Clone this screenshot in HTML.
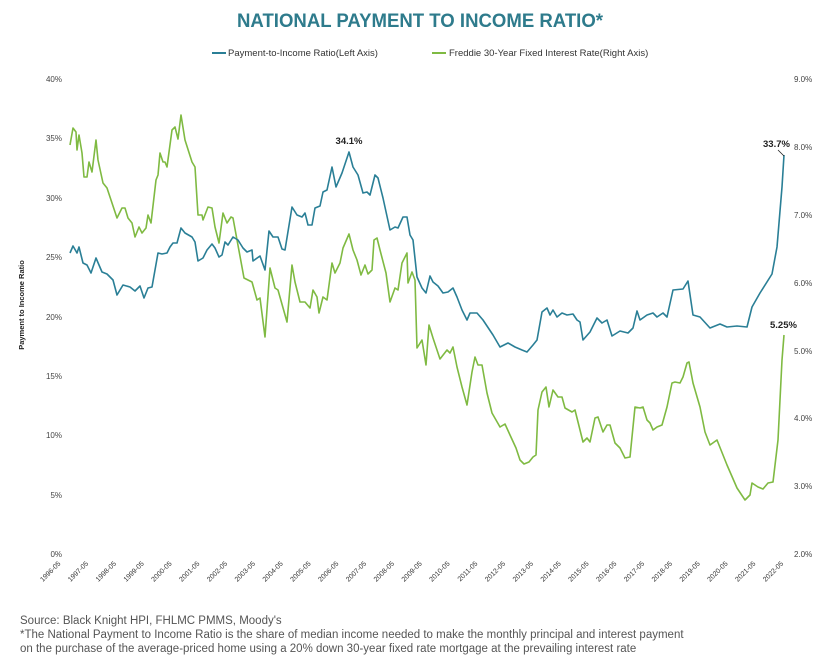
<!DOCTYPE html>
<html><head><meta charset="utf-8"><style>
body{margin:0;background:#fff;width:839px;height:662px;overflow:hidden;font-family:"Liberation Sans",sans-serif}
</style></head><body>
<svg width="839" height="662" viewBox="0 0 839 662" xmlns="http://www.w3.org/2000/svg" font-family="Liberation Sans, sans-serif">
<text x="420" y="27" text-anchor="middle" font-size="19" font-weight="bold" fill="#2e7b8c" textLength="366" lengthAdjust="spacingAndGlyphs">NATIONAL PAYMENT TO INCOME RATIO*</text>
<line x1="212" y1="53" x2="226" y2="53" stroke="#2a7f96" stroke-width="2"/>
<text x="228" y="56" font-size="9.5" fill="#333">Payment-to-Income Ratio(Left Axis)</text>
<line x1="432" y1="53" x2="446" y2="53" stroke="#7fba42" stroke-width="2"/>
<text x="449" y="56" font-size="9.5" fill="#333">Freddie 30-Year Fixed Interest Rate(Right Axis)</text>
<g font-size="8" fill="#444" text-anchor="end">
<text x="62" y="82">40%</text><text x="62" y="141">35%</text><text x="62" y="201">30%</text><text x="62" y="260">25%</text><text x="62" y="320">20%</text><text x="62" y="379">15%</text><text x="62" y="438">10%</text><text x="62" y="498">5%</text><text x="62" y="557">0%</text>
</g>
<g font-size="8" fill="#444">
<text x="794" y="82">9.0%</text><text x="794" y="150">8.0%</text><text x="794" y="218">7.0%</text><text x="794" y="286">6.0%</text><text x="794" y="354">5.0%</text><text x="794" y="421">4.0%</text><text x="794" y="489">3.0%</text><text x="794" y="557">2.0%</text>
</g>
<text transform="translate(24,305) rotate(-90)" text-anchor="middle" font-size="7.5" font-weight="bold" fill="#222">Payment to Income Ratio</text>
<g font-size="7" fill="#333" text-anchor="end">
<text transform="translate(61,564) rotate(-45)">1996-05</text>
<text transform="translate(88.8,564) rotate(-45)">1997-05</text>
<text transform="translate(116.6,564) rotate(-45)">1998-05</text>
<text transform="translate(144.4,564) rotate(-45)">1999-05</text>
<text transform="translate(172.2,564) rotate(-45)">2000-05</text>
<text transform="translate(200,564) rotate(-45)">2001-05</text>
<text transform="translate(227.8,564) rotate(-45)">2002-05</text>
<text transform="translate(255.6,564) rotate(-45)">2003-05</text>
<text transform="translate(283.4,564) rotate(-45)">2004-05</text>
<text transform="translate(311.2,564) rotate(-45)">2005-05</text>
<text transform="translate(339,564) rotate(-45)">2006-05</text>
<text transform="translate(366.8,564) rotate(-45)">2007-05</text>
<text transform="translate(394.6,564) rotate(-45)">2008-05</text>
<text transform="translate(422.4,564) rotate(-45)">2009-05</text>
<text transform="translate(450.2,564) rotate(-45)">2010-05</text>
<text transform="translate(478,564) rotate(-45)">2011-05</text>
<text transform="translate(505.8,564) rotate(-45)">2012-05</text>
<text transform="translate(533.6,564) rotate(-45)">2013-05</text>
<text transform="translate(561.4,564) rotate(-45)">2014-05</text>
<text transform="translate(589.2,564) rotate(-45)">2015-05</text>
<text transform="translate(617,564) rotate(-45)">2016-05</text>
<text transform="translate(644.8,564) rotate(-45)">2017-05</text>
<text transform="translate(672.6,564) rotate(-45)">2018-05</text>
<text transform="translate(700.4,564) rotate(-45)">2019-05</text>
<text transform="translate(728.2,564) rotate(-45)">2020-05</text>
<text transform="translate(756,564) rotate(-45)">2021-05</text>
<text transform="translate(783.8,564) rotate(-45)">2022-05</text>
</g>
<polyline fill="none" stroke="#7fba42" stroke-width="1.6" stroke-linejoin="round" points="70,145 73,128 76,132 77,150 79,135 82,153 84,177 87,177 89,162 92,172 96,140 98,160 103,183 107,188 117,218 122,208 125,208 128,218 132,223 135,237 139,227 142,233 146,228 148,215 151,223 156,180 158,175 160,153 163,162 165,162 167,167 172,130 175,127 178,139 181,115 185,140 192,162 195,167 198,215 202,215 203,220 208,207 212,208 215,227 219,243 223,213 227,223 231,217 233,218 244,278 252,282 257,300 260,298 265,337 270,268 275,288 278,290 287,322 292,265 295,282 300,302 305,302 310,308 313,290 317,297 319,313 323,297 327,300 332,263 335,273 340,263 343,248 349,234 353,250 357,260 361,275 365,265 368,274 372,270 374,240 377,238 380,250 386,273 390,302 395,288 398,290 402,263 407,253 408,283 412,272 415,280 417,348 422,340 426,365 429,325 433,338 440,359 447,350 450,353 453,347 457,367 462,387 467,405 472,372 475,357 478,365 482,365 487,393 492,413 500,427 505,424 510,435 516,448 520,460 524,464 529,462 533,457 536,455 538,410 542,392 546,387 549,407 553,390 558,397 562,397 565,408 572,412 575,410 583,442 587,438 590,442 595,418 598,417 603,432 607,425 610,425 615,443 620,448 625,458 630,457 635,407 640,408 643,407 647,420 650,423 653,430 657,427 662,425 667,407 672,383 675,382 680,383 683,377 687,363 689,362 693,383 700,407 705,432 710,445 717,440 727,465 737,488 745,500 750,495 752,483 758,487 763,489 768,483 773,482 778,440 782,360 784,335"/>
<polyline fill="none" stroke="#2a7f96" stroke-width="1.6" stroke-linejoin="round" points="70,253 73,246 77,253 79,247 83,263 87,265 91,273 96,258 102,272 107,274 113,280 117,295 123,285 130,287 135,291 140,286 144,298 148,288 152,287 158,253 162,254 167,253 170,247 173,243 177,243 181,228 185,233 192,237 195,242 198,261 203,258 207,250 212,244 215,248 219,257 222,255 225,242 228,245 233,237 238,240 243,248 247,252 252,250 253,261 260,256 265,270 269,231 273,237 278,237 282,249 285,250 292,207 297,215 302,217 305,213 308,225 312,225 315,208 320,206 323,192 327,190 332,167 336,187 342,173 349,152 353,167 358,175 363,193 367,192 370,195 375,175 378,178 383,198 390,230 395,227 398,228 403,217 407,217 410,235 413,240 417,277 422,288 426,293 430,276 433,282 438,286 443,293 448,292 453,288 457,297 462,310 467,320 470,313 473,313 477,313 483,320 493,335 500,347 508,343 515,347 522,350 527,352 533,345 537,340 542,312 547,308 550,315 553,310 557,317 562,313 567,315 573,314 577,320 580,322 583,340 590,332 597,318 602,323 607,320 612,336 620,331 628,333 633,328 637,311 640,320 647,315 653,313 657,317 663,313 667,317 673,290 683,289 688,281 693,315 700,317 710,328 720,324 727,327 737,326 747,327 752,307 760,293 772,274 777,247 782,187 784,155"/>
<text x="349" y="144" text-anchor="middle" font-size="9.5" font-weight="bold" fill="#222">34.1%</text>
<text x="763" y="147" font-size="9.5" font-weight="bold" fill="#222">33.7%</text>
<line x1="778" y1="150" x2="784" y2="156" stroke="#222" stroke-width="0.8"/>
<text x="770" y="328" font-size="9.5" font-weight="bold" fill="#222">5.25%</text>
<g font-size="11.5" fill="#555">
<text x="20" y="624">Source: Black Knight HPI, FHLMC PMMS, Moody's</text>
<text x="20" y="638">*The National Payment to Income Ratio is the share of median income needed to make the monthly principal and interest payment</text>
<text x="20" y="652">on the purchase of the average-priced home using a 20% down 30-year fixed rate mortgage at the prevailing interest rate</text>
</g>
</svg>
</body></html>
